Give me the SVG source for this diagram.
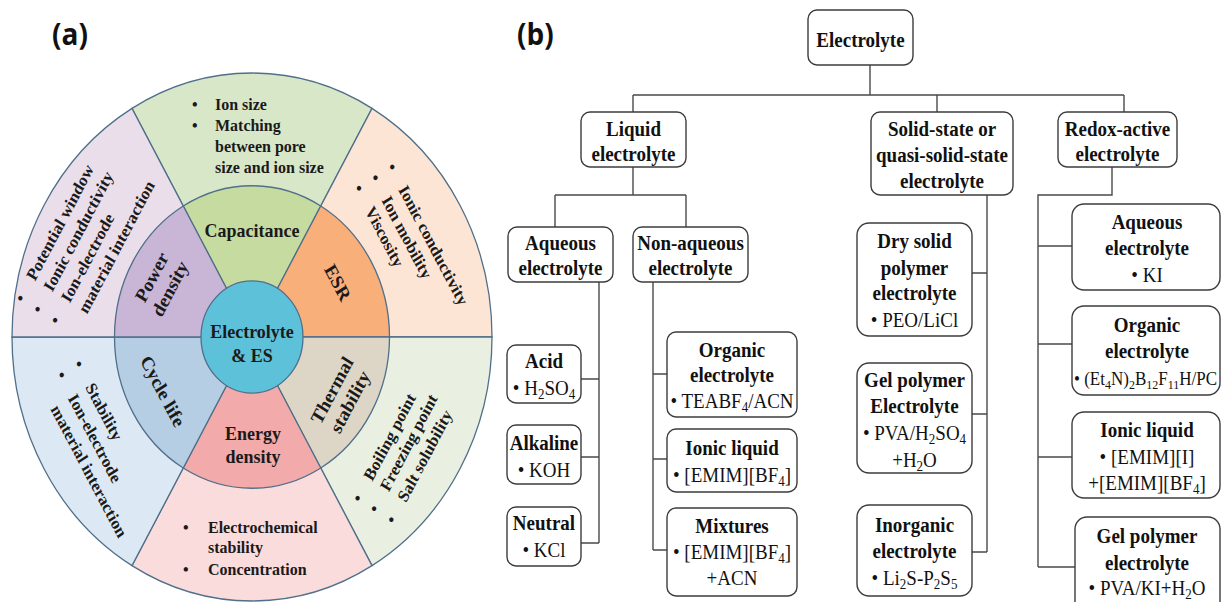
<svg xmlns="http://www.w3.org/2000/svg" width="1221" height="602" viewBox="0 0 1221 602">
<style>
.sec{stroke:#506f8a;stroke-width:1.3;vector-effect:non-scaling-stroke}
.ta{font-family:"Liberation Serif","Times New Roman",serif;font-weight:bold;font-size:16px;fill:#1a1a1a}
.tl{font-family:"Liberation Serif","Times New Roman",serif;font-weight:bold;font-size:18px;fill:#1a1a1a;text-anchor:middle}
.lab{font-family:"Open Sans","Noto Sans",sans-serif;font-weight:bold;font-size:28px;fill:#111}
.box{fill:#fff;stroke:#3c3c3c;stroke-width:1.4}
.con{fill:none;stroke:#4a4a4a;stroke-width:1.4}
.hb{font-family:"Liberation Serif","Times New Roman",serif;font-weight:bold;font-size:19px;fill:#111;text-anchor:middle}
.hr{font-family:"Liberation Serif","Times New Roman",serif;font-size:19px;fill:#111;text-anchor:middle}
.sb{font-size:13px}
</style>
<rect width="1221" height="602" fill="#fff"/>

<!-- Panel labels -->
<g transform="scale(1,1.1)">
<text class="lab" x="52" y="41">(a)</text>
<text class="lab" x="517" y="41">(b)</text>
</g>

<!-- Panel (a) -->
<g id="panel-a" transform="translate(252,337) scale(1,1.1)">
 <g id="cap-notes">
  <path class="sec" fill="#d9e7c9" d="M0,0 L-120,-207.85 A240,240 0 0 1 120,-207.85 Z"/>
  <text class="ta" x="-60" y="-206.4">•</text><text class="ta" x="-37" y="-206.4">Ion size</text>
  <text class="ta" x="-60" y="-187.3">•</text><text class="ta" x="-37" y="-187.3">Matching</text>
  <text class="ta" x="-37" y="-168.2">between pore</text>
  <text class="ta" x="-37" y="-149.1">size and ion size</text>
 </g>
 <g id="esr-notes">
  <path class="sec" fill="#fde5d6" d="M0,0 L120,-207.85 A240,240 0 0 1 240,0 Z"/>
  <g transform="rotate(60)">
   <text class="ta" x="-66.5" y="-193.5">•</text><text class="ta" x="-43" y="-193.5">Ionic conductivity</text>
   <text class="ta" x="-66.5" y="-174">•</text><text class="ta" x="-43" y="-174">Ion mobility</text>
   <text class="ta" x="-66.5" y="-155">•</text><text class="ta" x="-43" y="-155">Viscosity</text>
  </g>
 </g>
 <g id="thermal-notes">
  <path class="sec" fill="#eaf0e1" d="M0,0 L240,0 A240,240 0 0 1 120,207.85 Z"/>
  <g transform="rotate(-60)">
   <text class="ta" x="-77" y="170">•</text><text class="ta" x="-54" y="170">Boiling point</text>
   <text class="ta" x="-77" y="189">•</text><text class="ta" x="-54" y="189">Freezing point</text>
   <text class="ta" x="-77" y="209">•</text><text class="ta" x="-54" y="209">Salt solubility</text>
  </g>
 </g>
 <g id="energy-notes">
  <path class="sec" fill="#fadcdc" d="M0,0 L120,207.85 A240,240 0 0 1 -120,207.85 Z"/>
  <text class="ta" x="-69" y="178.2">•</text><text class="ta" x="-44" y="178.2">Electrochemical</text>
  <text class="ta" x="-44" y="196.4">stability</text>
  <text class="ta" x="-69" y="216.4">•</text><text class="ta" x="-44" y="216.4">Concentration</text>
 </g>
 <g id="cycle-notes">
  <path class="sec" fill="#dce9f4" d="M0,0 L-120,207.85 A240,240 0 0 1 -240,0 Z"/>
  <g transform="rotate(60)">
   <text class="ta" x="-68" y="167.5">•</text><text class="ta" x="-44" y="167.5">Stability</text>
   <text class="ta" x="-68" y="187.5">•</text><text class="ta" x="-44" y="187.5">Ion-electrode</text>
   <text class="ta" x="-44" y="207.5">material interaction</text>
  </g>
 </g>
 <g id="power-notes">
  <path class="sec" fill="#ebdeeb" d="M0,0 L-240,0 A240,240 0 0 1 -120,-207.85 Z"/>
  <g transform="rotate(-60)">
   <text class="ta" x="-88" y="-213">•</text><text class="ta" x="-65" y="-213">Potential window</text>
   <text class="ta" x="-88" y="-193">•</text><text class="ta" x="-65" y="-193">Ionic conductivity</text>
   <text class="ta" x="-88" y="-173">•</text><text class="ta" x="-65" y="-173">Ion-electrode</text>
   <text class="ta" x="-65" y="-153">material interaction</text>
  </g>
 </g>

 <g id="capacitance">
  <path class="sec" fill="#c5db9f" d="M0,0 L-68.75,-119.08 A137.5,137.5 0 0 1 68.75,-119.08 Z"/>
  <text class="tl" x="0" y="-91">Capacitance</text>
 </g>
 <g id="esr">
  <path class="sec" fill="#f9af7a" d="M0,0 L68.75,-119.08 A137.5,137.5 0 0 1 137.5,0 Z"/>
  <text class="tl" transform="rotate(60)" x="0" y="-93">ESR</text>
 </g>
 <g id="thermal">
  <path class="sec" fill="#ddd6c7" d="M0,0 L137.5,0 A137.5,137.5 0 0 1 68.75,119.08 Z"/>
  <g transform="rotate(-60)">
   <text class="tl" x="-2" y="99.5">Thermal</text>
   <text class="tl" x="-2" y="120.5">stability</text>
  </g>
 </g>
 <g id="energy">
  <path class="sec" fill="#f2aaaa" d="M0,0 L68.75,119.08 A137.5,137.5 0 0 1 -68.75,119.08 Z"/>
  <text class="tl" x="1" y="93.6">Energy</text>
  <text class="tl" x="1" y="114.5">density</text>
 </g>
 <g id="cycle">
  <path class="sec" fill="#b5cee3" d="M0,0 L-68.75,119.08 A137.5,137.5 0 0 1 -137.5,0 Z"/>
  <text class="tl" transform="rotate(60)" x="-2" y="108">Cycle life</text>
 </g>
 <g id="power">
  <path class="sec" fill="#c9b6d7" d="M0,0 L-137.5,0 A137.5,137.5 0 0 1 -68.75,-119.08 Z"/>
  <g transform="rotate(-60)">
   <text class="tl" x="-3" y="-108">Power</text>
   <text class="tl" x="-3" y="-87">density</text>
  </g>
 </g>
 <g id="center">
  <circle class="sec" cx="0" cy="0" r="51" fill="#5dc1d9"/>
  <text class="tl" x="0" y="1">Electrolyte</text>
  <text class="tl" x="0" y="22.7">&amp; ES</text>
 </g>
</g>

<!-- Panel (b) connectors -->
<g id="connectors" class="con">
 <path d="M870,65 V95 M633,95 H1124 M633,95 V112 M937,95 V112 M1124,95 V112"/>
 <path d="M633,167 V195 M555,195 H686 M555,195 V227 M686,195 V227"/>
 <path d="M599,282 V543 M581,379 H599 M581,457 H599 M581,543 H599"/>
 <path d="M653,282 V550 M653,374 H667 M653,459 H667 M653,550 H667"/>
 <path d="M987,195 V552 M972,273 H987 M972,414 H987 M972,552 H987"/>
 <path d="M1112,167 V195 H1038 V567 M1038,246 H1072 M1038,344 H1072 M1038,457 H1072 M1038,567 H1075"/>
</g>

<!-- Panel (b) boxes -->
<g id="b-boxes">
 <rect id="n-electrolyte" class="box" x="808" y="10" width="105" height="55" rx="9"/>
 <rect id="n-liquid" class="box" x="581" y="112" width="105" height="55" rx="9"/>
 <rect id="n-solid" class="box" x="871" y="112" width="142" height="83" rx="9"/>
 <rect id="n-redox" class="box" x="1058" y="112" width="119" height="55" rx="9"/>
 <rect id="n-aqueous" class="box" x="508" y="227" width="105" height="55" rx="9"/>
 <rect id="n-nonaqueous" class="box" x="633" y="227" width="115" height="55" rx="9"/>
 <rect id="n-acid" class="box" x="507" y="345" width="74" height="58" rx="9"/>
 <rect id="n-alkaline" class="box" x="507" y="425" width="74" height="59" rx="9"/>
 <rect id="n-neutral" class="box" x="507" y="507" width="74" height="59" rx="9"/>
 <rect id="n-organic" class="box" x="667" y="332" width="130" height="85" rx="9"/>
 <rect id="n-ionic" class="box" x="667" y="429" width="130" height="63" rx="9"/>
 <rect id="n-mixtures" class="box" x="667" y="508" width="130" height="88" rx="9"/>
 <rect id="n-dry" class="box" x="857" y="223" width="115" height="113" rx="12"/>
 <rect id="n-gel" class="box" x="857" y="363" width="115" height="110" rx="12"/>
 <rect id="n-inorganic" class="box" x="857" y="505" width="115" height="91" rx="12"/>
 <rect id="n-r-aqueous" class="box" x="1072" y="204" width="148" height="86" rx="12"/>
 <rect id="n-r-organic" class="box" x="1072" y="306" width="148" height="89" rx="12"/>
 <rect id="n-r-ionic" class="box" x="1072" y="412" width="148" height="86" rx="12"/>
 <rect id="n-r-gel" class="box" x="1075" y="517" width="145" height="100" rx="12"/>
</g>

<!-- Panel (b) texts -->
<g id="b-texts" transform="scale(1,1.1)">
 <text class="hb" x="860.5" y="42.7">Electrolyte</text>
 <text class="hb" x="633.5" y="123.6">Liquid</text>
 <text class="hb" x="633.5" y="146.4">electrolyte</text>
 <text class="hb" x="942" y="123.6">Solid-state or</text>
 <text class="hb" x="942" y="147.3">quasi-solid-state</text>
 <text class="hb" x="942" y="170.9">electrolyte</text>
 <text class="hb" x="1117.5" y="123.6">Redox-active</text>
 <text class="hb" x="1117.5" y="146.4">electrolyte</text>
 <text class="hb" x="560.5" y="227.3">Aqueous</text>
 <text class="hb" x="560.5" y="250">electrolyte</text>
 <text class="hb" x="690.5" y="227.3">Non-aqueous</text>
 <text class="hb" x="690.5" y="250">electrolyte</text>

 <text class="hb" x="544" y="334.5">Acid</text>
 <text class="hr" x="544" y="359.1">• H<tspan class="sb" dy="4">2</tspan><tspan dy="-4">SO</tspan><tspan class="sb" dy="4">4</tspan></text>
 <text class="hb" x="544" y="409.1">Alkaline</text>
 <text class="hr" x="544" y="433.6">• KOH</text>
 <text class="hb" x="544" y="481.8">Neutral</text>
 <text class="hr" x="544" y="506.4">• KCl</text>

 <text class="hb" x="732" y="324.5">Organic</text>
 <text class="hb" x="732" y="347.3">electrolyte</text>
 <text class="hr" x="732" y="370.9">• TEABF<tspan class="sb" dy="4">4</tspan><tspan dy="-4">/ACN</tspan></text>
 <text class="hb" x="732" y="413.6">Ionic liquid</text>
 <text class="hr" x="732" y="438.2">• [EMIM][BF<tspan class="sb" dy="4">4</tspan><tspan dy="-4">]</tspan></text>
 <text class="hb" x="732" y="484.5">Mixtures</text>
 <text class="hr" x="732" y="508.2">• [EMIM][BF<tspan class="sb" dy="4">4</tspan><tspan dy="-4">]</tspan></text>
 <text class="hr" x="732" y="531.8">+ACN</text>

 <text class="hb" x="914.5" y="225.5">Dry solid</text>
 <text class="hb" x="914.5" y="250">polymer</text>
 <text class="hb" x="914.5" y="272.7">electrolyte</text>
 <text class="hr" x="914.5" y="297.3">• PEO/LiCl</text>
 <text class="hb" x="914.5" y="351.8">Gel polymer</text>
 <text class="hb" x="914.5" y="375.5">Electrolyte</text>
 <text class="hr" x="914.5" y="400">• PVA/H<tspan class="sb" dy="4">2</tspan><tspan dy="-4">SO</tspan><tspan class="sb" dy="4">4</tspan></text>
 <text class="hr" x="914.5" y="424.5">+H<tspan class="sb" dy="4">2</tspan><tspan dy="-4">O</tspan></text>
 <text class="hb" x="914.5" y="483.6">Inorganic</text>
 <text class="hb" x="914.5" y="507.3">electrolyte</text>
 <text class="hr" x="914.5" y="531.8">• Li<tspan class="sb" dy="4">2</tspan><tspan dy="-4">S-P</tspan><tspan class="sb" dy="4">2</tspan><tspan dy="-4">S</tspan><tspan class="sb" dy="4">5</tspan></text>

 <text class="hb" x="1147" y="208.2">Aqueous</text>
 <text class="hb" x="1147" y="231.8">electrolyte</text>
 <text class="hr" x="1147" y="256.4">• KI</text>
 <text class="hb" x="1147" y="301.8">Organic</text>
 <text class="hb" x="1147" y="325.5">electrolyte</text>
 <text class="hr" x="1074" y="350" style="text-anchor:start;font-size:17px">• (Et<tspan style="font-size:12px" dy="4">4</tspan><tspan dy="-4">N)</tspan><tspan style="font-size:12px" dy="4">2</tspan><tspan dy="-4">B</tspan><tspan style="font-size:12px" dy="4">12</tspan><tspan dy="-4">F</tspan><tspan style="font-size:12px" dy="4">11</tspan><tspan dy="-4">H/PC</tspan></text>
 <text class="hb" x="1147" y="397.3">Ionic liquid</text>
 <text class="hr" x="1147" y="421.8">• [EMIM][I]</text>
 <text class="hr" x="1147" y="445.5">+[EMIM][BF<tspan class="sb" dy="4">4</tspan><tspan dy="-4">]</tspan></text>
 <text class="hb" x="1147" y="493.6">Gel polymer</text>
 <text class="hb" x="1147" y="518.2">electrolyte</text>
 <text class="hr" x="1147" y="540.9">• PVA/KI+H<tspan class="sb" dy="4">2</tspan><tspan dy="-4">O</tspan></text>
</g>
</svg>
